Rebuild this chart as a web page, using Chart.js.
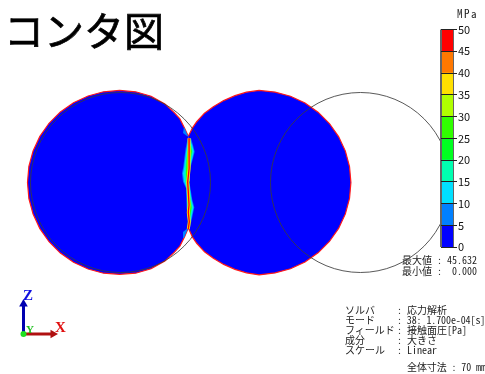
<!DOCTYPE html>
<html>
<head>
<meta charset="utf-8">
<script src="https://cdn.jsdelivr.net/npm/chart.js@4"></script>
<style>
  body { margin: 0; background: #fff; width: 485px; height: 374px; overflow: hidden; position: relative; }
  canvas { position: absolute; }
  div { position: absolute; white-space: pre; color: #222; line-height: 10px;
        font: 10px/10px 'Noto Sans CJK JP', sans-serif; font-feature-settings: "hwid"; }
  .title { left: 4px; top: 5px; font-size: 40px; line-height: 48px; font-weight: 400; color: #000; -webkit-text-stroke: 0.7px #000; }
  .axis { font: bold 15px/15px 'Liberation Serif', serif; }
</style>
</head>
<body>
<canvas class="model-chart" width="485" height="374" style="left:0;top:0"></canvas>
<canvas class="scale-chart" width="55" height="240" style="left:430px;top:20px"></canvas>

<div class="title">コンタ図</div>
<div style="left:457px;top:8px;font-size:11px;letter-spacing:1.5px">MPa</div>
<div style="left:402px;top:255px">最大値 : 45.632</div>
<div style="left:402px;top:266px">最小値 :  0.000</div>
<div style="left:345px;top:305px">ソルバ</div>
<div style="left:345px;top:315px">モード</div>
<div style="left:345px;top:325px">フィールド</div>
<div style="left:345px;top:335px">成分</div>
<div style="left:345px;top:345px">スケール</div>
<div style="left:397px;top:305px">: 応力解析</div>
<div style="left:397px;top:315px;letter-spacing:-0.1px">: 38: 1.700e-04[s]</div>
<div style="left:397px;top:325px">: 接触面圧[Pa]</div>
<div style="left:397px;top:335px">: 大きさ</div>
<div style="left:397px;top:345px">: Linear</div>
<div style="left:407px;top:362px;letter-spacing:-0.1px">全体寸法 : 70 mm</div>
<div class="axis" style="left:23px;top:288px;color:#1010e0">Z</div>
<div class="axis" style="left:55px;top:320px;color:#e01010">X</div>
<div class="axis" style="left:26px;top:322px;color:#20c020;font-size:11px">Y</div>

<script>
// everything below is in mm, the model is 70 mm wide
const scaleBands = [5, 5, 5, 5, 5, 5, 5, 5, 5, 5];
const scaleColors = ['#0000ff', '#0080ff', '#00e0ff', '#00ffb0', '#00ff20', '#30ff00', '#b0ff00', '#ffe000', '#ff7800', '#ff0000'];

const ballCenters = [[15, 0], [55, 0]];
const ballRadius = 15;

const leftBody = [[26.3,7.7],[25.7,9.0],[24.9,10.6],[24.0,11.6],[22.4,13.1],[20.1,14.38],[17.52,15.12],[14.85,15.35],[12.18,15.12],[9.6,14.42],[7.17,13.29],[4.98,11.76],[3.09,9.87],[1.56,7.68],[0.43,5.25],[-0.27,2.67],[-0.5,0],[-0.27,-2.67],[0.43,-5.25],[1.56,-7.68],[3.09,-9.87],[4.98,-11.76],[7.17,-13.29],[9.6,-14.42],[12.18,-15.12],[14.85,-15.3],[17.52,-15.12],[20.1,-14.38],[22.4,-13.1],[24.0,-11.6],[24.9,-10.6],[25.7,-9.0],[26.3,-7.6]];
const rightBody = [[26.3,7.7],[27.0,9.1],[27.7,10.13],[29.0,11.55],[30.47,12.63],[32.2,13.65],[34.08,14.47],[36.0,15.05],[38.1,15.35],[40.76,15.07],[43.33,14.38],[45.75,13.25],[47.93,11.72],[49.82,9.83],[51.35,7.65],[52.48,5.23],[53.17,2.66],[53.4,0],[53.17,-2.66],[52.48,-5.23],[51.35,-7.65],[49.82,-9.83],[47.93,-11.72],[45.75,-13.25],[43.33,-14.38],[40.76,-15.07],[38.1,-15.4],[36.0,-15.05],[34.08,-14.47],[32.2,-13.65],[30.47,-12.63],[29.0,-11.55],[27.7,-10.13],[27.0,-9.1],[26.3,-7.6]];

const contour5 = [[26.2,7.36],[25.86,5.69],[25.64,4.03],[25.47,2.64],[25.25,1.53],[25.42,0.14],[25.92,-0.97],[25.97,-2.36],[26.08,-4.31],[26.25,-6.25],[26.3,-7.75],[26.53,-7.75],[26.86,-6.25],[27.3,-4.14],[26.97,-2.92],[26.7,-1.25],[26.47,0.14],[26.64,2.36],[27.08,4.03],[27.36,5.14],[27.08,6.25],[26.75,7.36]];
const contour10 = [[26.3,7.0],[25.98,5.5],[25.78,3.9],[25.62,2.6],[25.42,1.5],[25.58,0.2],[26.02,-1.0],[26.07,-2.4],[26.18,-4.3],[26.3,-6.0],[26.35,-7.3],[26.48,-7.3],[26.74,-6.2],[27.15,-4.15],[26.85,-2.9],[26.6,-1.25],[26.42,0.15],[26.55,2.4],[26.95,4.0],[27.22,5.15],[26.95,6.2],[26.65,7.0]];
const contour15 = [[26.35,6.6],[26.1,5.3],[25.92,3.8],[25.78,2.5],[25.65,1.4],[25.75,0.3],[26.1,-1.0],[26.15,-2.4],[26.25,-4.3],[26.32,-5.8],[26.38,-6.9],[26.45,-6.9],[26.65,-6.1],[27.0,-4.15],[26.75,-2.9],[26.52,-1.25],[26.38,0.15],[26.48,2.4],[26.82,4.0],[27.08,5.15],[26.85,6.1],[26.55,6.6]];
const contour20 = [[26.38,6.2],[26.15,5.1],[26.02,3.7],[25.95,2.4],[25.9,1.3],[26.0,0.4],[26.18,-1.0],[26.2,-2.4],[26.28,-4.3],[26.33,-5.6],[26.38,-6.5],[26.43,-6.5],[26.55,-6.0],[26.85,-4.15],[26.62,-2.9],[26.46,-1.25],[26.35,0.2],[26.42,2.4],[26.68,4.0],[26.9,5.15],[26.7,6.0],[26.5,6.2]];
const contactLine = [[26.42,7.36],[26.47,5.69],[26.42,4.03],[26.42,2.36],[26.2,0.03],[26.3,-1.53],[26.42,-3.75],[26.3,-5],[26.47,-6.53],[26.3,-7.75]];
// small patches just above and below the contact tips
const upperTip = [[25.58,9.25],[25.42,8.25],[26.08,7.75],[26.3,7.7]];
const lowerTip = [[25.58,-9.25],[25.42,-8.25],[26.08,-7.7],[26.3,-7.6]];

const triadOrigin = [-1.17, -25.25];
const triadZ = [-1.17, -20.25];
const triadX = [3.75, -25.25];

function toPoints (list) {
  return list.map(p => ({ x: p[0], y: p[1] }));
}

function bodyDataset (list) {
  return { data: toPoints(list), showLine: true, fill: 'shape', pointRadius: 0,
    backgroundColor: scaleColors[0], borderColor: '#ff1818', borderWidth: 1.2 };
}

function contourDataset (list, color) {
  return { data: toPoints(list), showLine: true, fill: 'shape', pointRadius: 0,
    backgroundColor: color, borderWidth: 0 };
}

function contactDataset (color, width) {
  return { data: toPoints(contactLine), showLine: true, fill: false, pointRadius: 0,
    borderColor: color, borderWidth: width };
}

function arrowDataset (end, color, angle) {
  return { data: toPoints([triadOrigin, end]), showLine: true, fill: false, borderColor: color, borderWidth: 3,
    pointStyle: 'triangle', pointRotation: angle, pointBackgroundColor: color, pointBorderWidth: 0,
    pointRadius: ctx => ctx.dataIndex === 1 ? 5 : 0 };
}

function displayModelChart () {
  const ctx = document.querySelector('.model-chart');

  new Chart(ctx, {
    type: 'scatter',
    data: {
      datasets: [
        // undeformed balls, radius follows the x scale
        { data: toPoints(ballCenters), pointBackgroundColor: 'transparent', pointBorderColor: 'rgba(60,60,60,0.85)', pointBorderWidth: 1,
          pointRadius: c => c.chart.scales.x.getPixelForValue(ballRadius) - c.chart.scales.x.getPixelForValue(0) },
        { data: toPoints([triadOrigin]), pointBackgroundColor: '#20e020', pointBorderWidth: 0, pointRadius: 3 },
        arrowDataset(triadZ, '#0000b0', 0),
        arrowDataset(triadX, '#b01010', 90),
        contactDataset('#ff0000', 1.3),
        contactDataset('#ffe000', 3),
        contourDataset(contour20, scaleColors[5]),
        contourDataset(contour15, scaleColors[3]),
        contourDataset(contour10, scaleColors[2]),
        contourDataset(contour5, scaleColors[1]),
        contourDataset(upperTip, scaleColors[1]),
        contourDataset(lowerTip, scaleColors[1]),
        bodyDataset(leftBody),
        bodyDataset(rightBody)
      ]
    },
    options: {
      responsive: false,
      animation: false,
      layout: { padding: 0, autoPadding: false },
      plugins: { legend: { display: false }, tooltip: { enabled: false } },
      scales: {
        x: { type: 'linear', display: false, min: -5.0833, max: 75.75 },
        y: { type: 'linear', display: false, min: -31.9167, max: 30.4167 }
      }
    }
  });
}

function displayScaleChart () {
  const ctx = document.querySelector('.scale-chart');

  new Chart(ctx, {
    type: 'bar',
    data: {
      labels: ['MPa'],
      datasets: scaleBands.map((band, i) => ({
        data: [band],
        backgroundColor: scaleColors[i],
        borderWidth: 0,
        barPercentage: 1,
        categoryPercentage: 1
      }))
    },
    options: {
      responsive: false,
      animation: false,
      layout: { padding: { left: 11, top: 9.5, bottom: 12.7, right: 0 }, autoPadding: false },
      plugins: { legend: { display: false }, tooltip: { enabled: false } },
      scales: {
        x: {
          stacked: true,
          ticks: { display: false },
          border: { display: false },
          grid: { color: '#666', lineWidth: c => c.index === 0 ? 2 : 1, z: 1, drawTicks: false },
          afterFit: s => { s.height = 0; }
        },
        y: {
          stacked: true,
          position: 'right',
          min: 0,
          max: 50,
          ticks: { stepSize: 5, color: '#111', padding: 1, font: { family: 'Noto Sans CJK JP', size: 11 } },
          border: { display: false },
          grid: { color: '#222', z: 1, tickLength: 4 },
          afterFit: s => { s.width = 32; }
        }
      }
    }
  });
}

displayModelChart();
displayScaleChart();
</script>
</body>
</html>
